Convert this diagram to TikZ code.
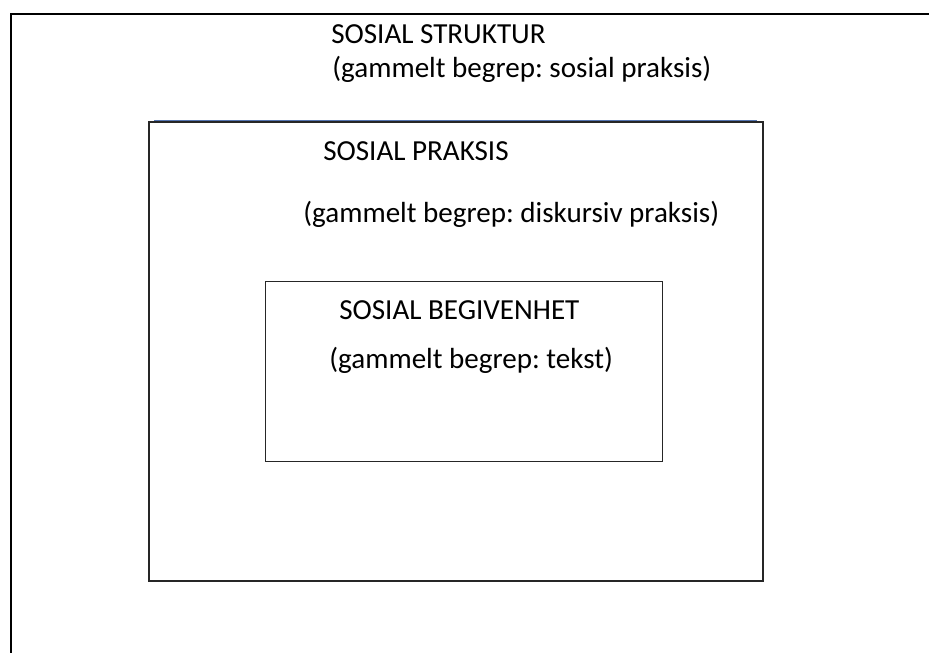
\documentclass[tikz,border=0pt]{standalone}
\usepackage{fontspec}
\setmainfont{Carlito}
\usetikzlibrary{calc}
\definecolor{kantblaa}{RGB}{84,116,176}
\frenchspacing
\tikzset{
	ramme/.style={line width=1.5pt},
	boks/.style={line width=0.9pt, draw=black!85},
	tittel/.style={anchor=base west, inner sep=0pt, font=\fontsize{21.8}{26}\selectfont}
}

\begin{document}
\begin{tikzpicture}[x=0.75pt, y=-0.75pt]
				\useasboundingbox (0,0) rectangle (929,653);
				
				\draw[ramme] (11,653) -- (11,14) -- (929,14);
				
				\draw[boks] (149,122) rectangle (763,581);
				\draw[kantblaa, line width=0.9pt] (154,120.5) -- (757,120.5);
				
				\draw[boks, line width=0.75pt] (265,281) rectangle (662,461);
				
				\node[tittel] (struktur) at (331,43) {SOSIAL STRUKTUR};
				\node[tittel] (strukturgl) at (332,77) {(gammelt begrep: sosial praksis)};
				
				\node[tittel] (praksis) at (323,160) {SOSIAL PRAKSIS};
				\node[tittel] (praksisgl) at (303,222) {(gammelt begrep: diskursiv praksis)};
				
				\node[tittel] (hendelse) at (339,319) {SOSIAL BEGIVENHET};
				\node[tittel] (hendelsegl) at (329,368) {(gammelt begrep: tekst)};
			\end{tikzpicture}
\end{document}
